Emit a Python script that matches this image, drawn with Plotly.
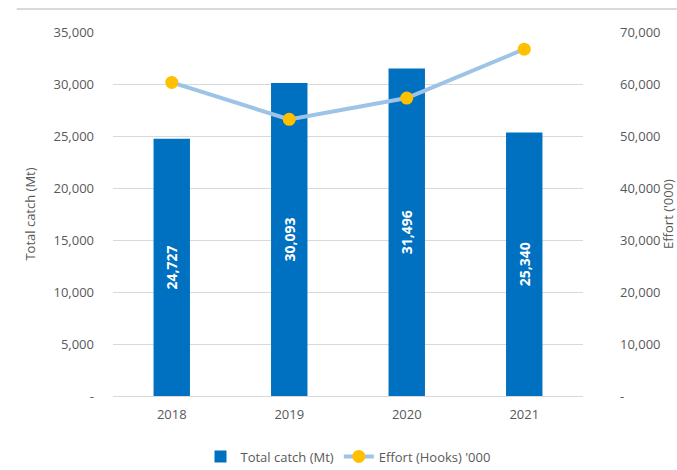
import plotly.graph_objects as go

years = ["2018", "2019", "2020", "2021"]
total_catch = [24727, 30093, 31496, 25340]
effort = [60300, 53200, 57300, 66700]

left_ticks = [0, 5000, 10000, 15000, 20000, 25000, 30000, 35000]
left_labels = ["-", "5,000", "10,000", "15,000", "20,000", "25,000", "30,000", "35,000"]
right_ticks = [0, 10000, 20000, 30000, 40000, 50000, 60000, 70000]
right_labels = ["-", "10,000", "20,000", "30,000", "40,000", "50,000", "60,000", "70,000"]

font_family = "Open Sans, Noto Sans, sans-serif"
grey = "#595959"

fig = go.Figure()
fig.add_trace(go.Bar(
    x=years, y=total_catch, name="Total catch (Mt)",
    marker=dict(color="#0070C0", line=dict(width=0)),
    width=0.31,
    text=[f"{v:,}" for v in total_catch],
    textposition="inside", insidetextanchor="middle", textangle=-90,
    textfont=dict(color="white", size=14, family=font_family, weight="bold"),
    yaxis="y",
))
fig.add_trace(go.Scatter(
    x=years, y=effort, name="Effort (Hooks) '000",
    mode="lines+markers",
    line=dict(color="#9DC3E6", width=4),
    marker=dict(color="#FFC000", size=13),
    yaxis="y2",
))

fig.update_layout(
    width=677, height=470,
    margin=dict(l=113, r=94, t=32, b=74, autoexpand=False),
    paper_bgcolor="white", plot_bgcolor="white",
    font=dict(family=font_family, color=grey, size=13),
    bargap=0.69,
    xaxis=dict(
        showgrid=False, showline=True, linecolor="#d9d9d9", linewidth=1,
        ticks="", ticklabelstandoff=6, tickfont=dict(size=13, color=grey),
        automargin=False,
    ),
    yaxis=dict(
        range=[0, 35000], tickvals=left_ticks, ticktext=left_labels,
        showgrid=True, gridcolor="#d9d9d9", gridwidth=1, zeroline=False,
        ticks="", ticklabelstandoff=18, automargin=False,
        title=dict(text="Total catch (Mt)", font=dict(size=13, color=grey), standoff=14),
        tickfont=dict(size=13, color=grey),
    ),
    yaxis2=dict(
        range=[0, 70000], tickvals=right_ticks, ticktext=right_labels,
        overlaying="y", side="right", showgrid=False, zeroline=False,
        ticks="", ticklabelstandoff=36, automargin=False,
        title=dict(text="Effort ('000)", font=dict(size=13, color=grey), standoff=10),
        tickfont=dict(size=13, color=grey),
    ),
    legend=dict(
        orientation="h", x=0.5, xanchor="center", y=-0.125, yanchor="top",
        font=dict(size=13, color=grey), itemwidth=30,
    ),
    shapes=[dict(
        type="line", xref="paper", yref="paper", x0=-0.205, x1=1.2,
        y0=1.063, y1=1.063, line=dict(color="#d9d9d9", width=2),
    )],
)

fig.write_html("out.html")
